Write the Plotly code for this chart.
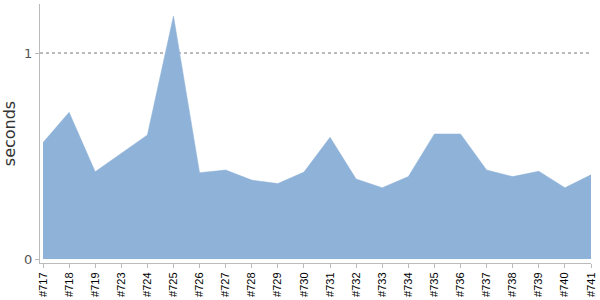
import plotly.graph_objects as go

builds = ["#717", "#718", "#719", "#723", "#724", "#725", "#726", "#727", "#728", "#729",
          "#730", "#731", "#732", "#733", "#734", "#735", "#736", "#737", "#738", "#739",
          "#740", "#741"]
seconds = [0.565, 0.712, 0.424, 0.513, 0.602, 1.18, 0.419, 0.432, 0.383, 0.366,
           0.422, 0.591, 0.388, 0.346, 0.40, 0.607, 0.607, 0.432, 0.40, 0.426,
           0.346, 0.409]
y_ticks = [0, 1]
reference_line = 1

fig = go.Figure()
fig.add_trace(go.Scatter(
    x=builds, y=seconds, mode="lines", fill="tozeroy",
    line=dict(color="#8fb2d9", width=0.5),
    fillcolor="#8fb2d9", hoverinfo="x+y",
))
fig.add_hline(y=reference_line, line=dict(color="#777777", width=1, dash="dot"), layer="below")

fig.update_layout(
    width=600, height=300,
    margin=dict(l=40, r=9, t=4, b=37),
    paper_bgcolor="white", plot_bgcolor="white",
    showlegend=False,
    font=dict(family="DejaVu Sans", color="#444"),
)
fig.update_xaxes(
    type="category", range=[-0.115, 21], automargin=False,
    showline=True, linecolor="#bbbbbb", linewidth=1,
    ticks="outside", ticklen=4, tickcolor="#bbbbbb",
    tickangle=-90, tickfont=dict(size=11, color="black", family="Liberation Sans"),
    showgrid=False, zeroline=False,
)
fig.update_yaxes(
    range=[-0.0194, 1.238], tickvals=y_ticks, ticktext=[str(v) for v in y_ticks],
    automargin=False,
    showline=True, linecolor="#bbbbbb", linewidth=1,
    ticks="outside", ticklen=4, tickcolor="#bbbbbb",
    tickfont=dict(size=13, color="#555"),
    showgrid=False, zeroline=False,
    title=dict(text="seconds", font=dict(size=16, color="#333"), standoff=12),
)

fig.write_html("out.html")
